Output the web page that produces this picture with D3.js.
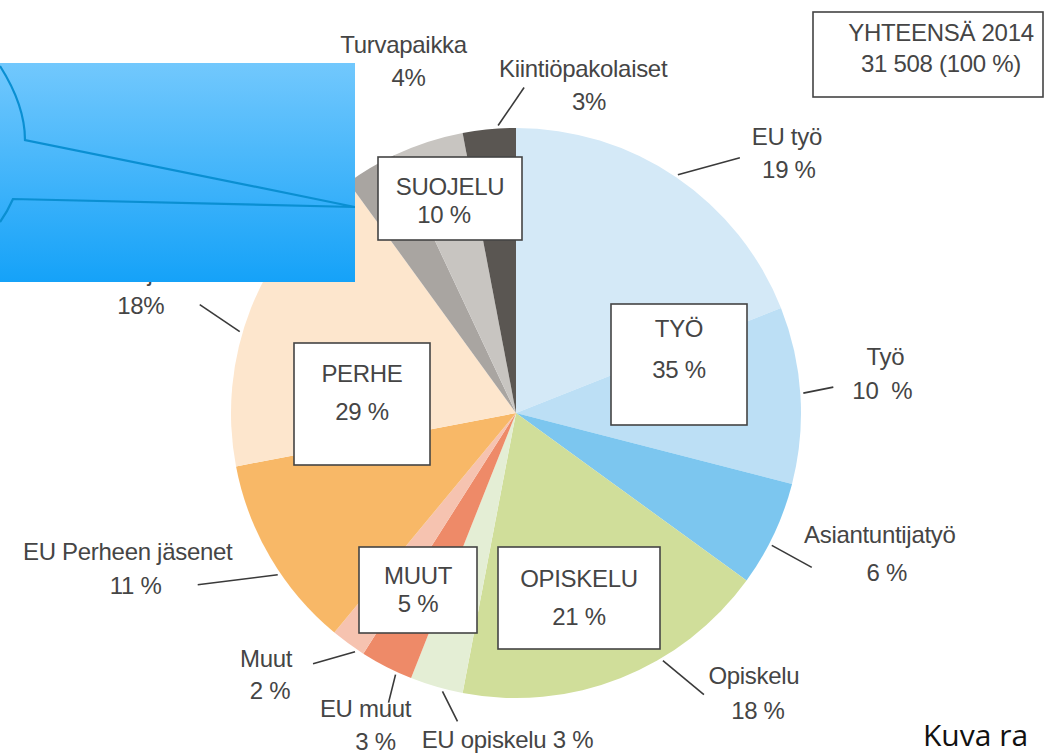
<!DOCTYPE html>
<html>
<head>
<meta charset="utf-8">
<script src="https://cdn.jsdelivr.net/npm/d3@7"></script>
<style>
  body { margin: 0; background: #fff; }
  svg { display: block; }
  .lbl { font-family: "Liberation Sans", Arial, sans-serif; font-size: 24px; fill: #454545; letter-spacing: -0.3px; }
</style>
</head>
<body>
<svg id="chart"></svg>
<script>
// oleskeluluvat 2014, osuudet (%) myötäpäivään klo 12:sta
var categories = ["EU työ", "Työ", "Asiantuntijatyö", "Opiskelu", "EU opiskelu", "EU muut", "Muut",
    "EU Perheen jäsenet", "Perheenjäsenet", "Muu suojelu", "Turvapaikka", "Kiintiöpakolaiset"]
var values = [19, 10, 6, 18, 3, 3, 2, 11, 18, 3, 4, 3]
var valueTexts = ["19 %", "10  %", "6 %", "18 %", "3 %", "3 %", "2 %", "11 %", "18%", "3%", "4%", "3%"]
var colors = ["#d4e9f7", "#bcdff5", "#7cc6ef", "#d0de9a", "#e4eed5", "#ee8a68", "#f6c3b0",
    "#f8b867", "#fde6cd", "#a9a5a1", "#c8c5c1", "#5a5652"]

var groups = ["SUOJELU", "TYÖ", "OPISKELU", "MUUT", "PERHE"]
var groupValues = ["10 %", "35 %", "21 %", "5 %", "29 %"]

var totalTitle = "YHTEENSÄ 2014"
var totalText = "31 508 (100 %)"

var width = 1046, height = 755
var cx = 516, cy = 413, R = 285

var svg = d3.select("#chart").attr("width", width).attr("height", height)

var data = categories.map((c, i) => ({ name: c, v: values[i], txt: valueTexts[i], color: colors[i] }))

var pie = d3.pie().sort(null).value(d => d.v)
var arc = d3.arc().innerRadius(0).outerRadius(R)
var rim = d3.arc().innerRadius(R + 3).outerRadius(R + 3)
var arcs = pie(data)

var g = svg.append("g").attr("transform", "translate(" + cx + "," + cy + ")")

g.selectAll("path.slice")
    .data(arcs)
    .enter()
    .append("path")
    .attr("class", "slice")
    .attr("d", arc)
    .attr("fill", d => d.data.color)

// label placement: t = spot inside slice where leader starts, l = leader end, a/b = text lines (offsets from leader start)
var layout = [
    { t: 0.50, l: [62, -17], a: [109, -30], b: [111, 3] },
    { t: 0.49, l: [30, -6], a: [82, -28], b: [79, 6] },
    { t: 0.60, l: [40, 22], a: [108, -2], b: [115, 36] },
    { t: 0.36, l: [41, 34], a: [91, 23], b: [95, 58] },
    { t: 0.37, l: [15, 30], one: [65, 57] },
    { t: 0.29, l: [-7, 28], a: [-30, 42], b: [-20, 75] },
    { t: 0.22, l: [-42, 12], a: [-89, 15], b: [-85, 47] },
    { t: 0.41, l: [-80, 10], a: [-150, -15], b: [-142, 19] },
    { t: 0.42, l: [-40, -27], a: [-99, -51], b: [-99, -18] },
    null,
    { t: 0.45, a: [-20, -87], b: [-15, -54] },
    { t: 0.67, l: [26, -38], a: [85, -49], b: [91, -16] }
]

arcs.forEach((d, i) => {
    var L = layout[i]
    if (!L) return
    var ang = d.startAngle + L.t * (d.endAngle - d.startAngle)
    var p = rim.centroid({ startAngle: ang, endAngle: ang })
    if (L.l) {
        g.append("line")
            .attr("x1", p[0]).attr("y1", p[1])
            .attr("x2", p[0] + L.l[0]).attr("y2", p[1] + L.l[1])
            .attr("stroke", "#3a3a3a").attr("stroke-width", 1.6)
    }
    if (L.one) {
        g.append("text").attr("class", "lbl").attr("text-anchor", "middle")
            .attr("x", p[0] + L.one[0]).attr("y", p[1] + L.one[1])
            .text(d.data.name + " " + d.data.txt)
    } else {
        g.append("text").attr("class", "lbl").attr("text-anchor", "middle")
            .attr("x", p[0] + L.a[0]).attr("y", p[1] + L.a[1])
            .text(d.data.name)
        g.append("text").attr("class", "lbl").attr("text-anchor", "middle")
            .attr("x", p[0] + L.b[0]).attr("y", p[1] + L.b[1])
            .style("white-space", "pre")
            .text(d.data.txt)
    }
})

// pääryhmien laatikot
var boxes = [
    { x: 378, y: 157, w: 144, h: 83, d1: 38, d2: 66, dx2: -6 },
    { x: 611, y: 304, w: 136, h: 121, d1: 33, d2: 74, dx2: 0 },
    { x: 498, y: 547, w: 162, h: 102, d1: 40, d2: 78, dx2: 0 },
    { x: 359, y: 547, w: 118, h: 86, d1: 37, d2: 65, dx2: 0 },
    { x: 294, y: 343, w: 136, h: 122, d1: 39, d2: 77, dx2: 0 }
]

groups.forEach((name, i) => {
    var b = boxes[i]
    svg.append("rect")
        .attr("x", b.x).attr("y", b.y).attr("width", b.w).attr("height", b.h)
        .attr("fill", "#fff").attr("stroke", "#444").attr("stroke-width", 1.6)
    svg.append("text").attr("class", "lbl").attr("text-anchor", "middle")
        .attr("x", b.x + b.w / 2).attr("y", b.y + b.d1).text(name)
    svg.append("text").attr("class", "lbl").attr("text-anchor", "middle")
        .attr("x", b.x + b.w / 2 + b.dx2).attr("y", b.y + b.d2).text(groupValues[i])
})

// yhteensä
svg.append("rect")
    .attr("x", 813).attr("y", 12).attr("width", 230).attr("height", 85)
    .attr("fill", "#fff").attr("stroke", "#444").attr("stroke-width", 1.6)
svg.append("text").attr("class", "lbl").attr("text-anchor", "middle")
    .attr("x", 941).attr("y", 41).text(totalTitle)
svg.append("text").attr("class", "lbl").attr("text-anchor", "middle")
    .attr("x", 941).attr("y", 72).text(totalText)

// sininen puhekupla peittää vasemman yläkulman
var defs = svg.append("defs")
var grad = defs.append("linearGradient").attr("id", "blue").attr("x1", 0).attr("y1", 0).attr("x2", 0).attr("y2", 1)
grad.append("stop").attr("offset", "0%").attr("stop-color", "#72c8fd")
grad.append("stop").attr("offset", "100%").attr("stop-color", "#15a2f8")
defs.append("clipPath").attr("id", "bubbleClip")
    .append("rect").attr("x", 0).attr("y", 63).attr("width", 355).attr("height", 219)

svg.append("rect")
    .attr("x", 0).attr("y", 63).attr("width", 355).attr("height", 219)
    .attr("fill", "url(#blue)")
svg.append("path")
    .attr("clip-path", "url(#bubbleClip)")
    .attr("d", "M0,66 C14,88 25,112 25,140 L355,207 L13,199 C9,208 5,215 0,222")
    .attr("fill", "none")
    .attr("stroke", "#0a8fd2")
    .attr("stroke-width", 2.2)

svg.append("text")
    .attr("x", 923).attr("y", 746)
    .style("font-family", "'Open Sans', Lato, sans-serif")
    .style("font-size", "30px")
    .style("fill", "#111")
    .text("Kuva ra")
</script>
</body>
</html>
